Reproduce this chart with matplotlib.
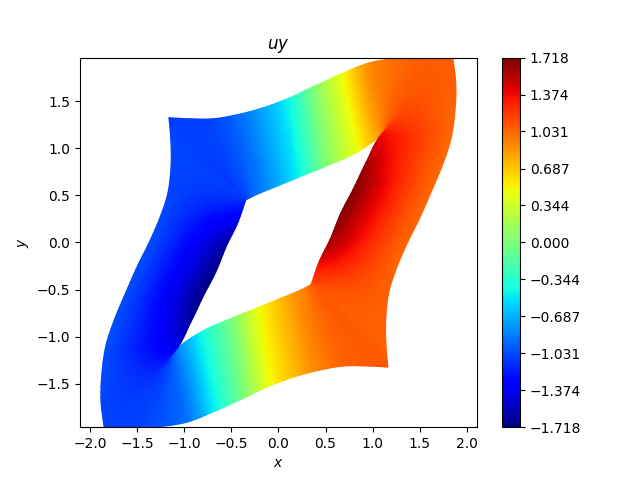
import matplotlib
matplotlib.use("Agg")
import matplotlib.pyplot as plt
import numpy as np

# one station per line of the ring: top arm, right arm, bottom arm, left arm
outer_x = [-1.162,-0.939,-0.695,-0.440,-0.164,0.122,0.366,0.674,0.971,1.215,1.554,
           1.851,1.883,1.873,1.830,1.751,1.618,1.491,1.385,1.247,1.178,1.141,1.146,
           1.162,0.939,0.695,0.440,0.164,-0.122,-0.366,-0.674,-0.971,-1.215,-1.554,
           -1.851,-1.883,-1.873,-1.830,-1.751,-1.618,-1.491,-1.385,-1.247,-1.178,-1.141,-1.146]
outer_y = [1.323,1.312,1.312,1.355,1.429,1.536,1.652,1.791,1.908,1.950,1.961,
           1.961,1.695,1.376,1.089,0.845,0.526,0.239,0.027,-0.292,-0.505,-0.792,-1.142,
           -1.323,-1.312,-1.312,-1.355,-1.429,-1.536,-1.652,-1.791,-1.908,-1.950,-1.961,
           -1.961,-1.695,-1.376,-1.089,-0.845,-0.526,-0.239,-0.027,0.292,0.505,0.792,1.142]
inner_x = [-0.345,-0.345,-0.345,-0.281,-0.005,0.228,0.493,0.844,1.056,1.130,1.130,
           1.130,1.130,1.130,1.098,0.928,0.790,0.663,0.546,0.440,0.345,0.345,0.345,
           0.345,0.345,0.345,0.281,0.005,-0.228,-0.493,-0.844,-1.056,-1.130,-1.130,
           -1.130,-1.130,-1.130,-1.098,-0.928,-0.790,-0.663,-0.546,-0.440,-0.345,-0.345,-0.345]
inner_y = [0.452,0.452,0.452,0.484,0.600,0.696,0.802,0.962,1.110,1.185,1.185,
           1.185,1.185,1.185,1.153,0.845,0.558,0.313,0.027,-0.186,-0.452,-0.452,-0.452,
           -0.452,-0.452,-0.452,-0.484,-0.600,-0.696,-0.802,-0.962,-1.110,-1.185,-1.185,
           -1.185,-1.185,-1.185,-1.153,-0.845,-0.558,-0.313,-0.027,0.186,0.452,0.452,0.452]
uy_outer = [-1.08,-1.08,-1.05,-0.93,-0.72,-0.43,0.00,0.48,0.90,1.00,1.07,
            1.07,1.05,1.03,1.02,1.02,1.03,1.03,1.03,1.03,1.05,1.05,1.05,
            1.08,1.08,1.05,0.93,0.72,0.43,0.00,-0.48,-0.90,-1.00,-1.07,
            -1.07,-1.05,-1.03,-1.02,-1.02,-1.03,-1.03,-1.03,-1.03,-1.05,-1.05,-1.05]
uy_mid = [-1.09,-1.07,-1.04,-0.95,-0.72,-0.44,0.00,0.48,0.88,1.00,1.08,
          1.10,1.12,1.15,1.20,1.25,1.30,1.30,1.28,1.22,1.12,1.08,1.07,
          1.09,1.07,1.04,0.95,0.72,0.44,0.00,-0.48,-0.88,-1.00,-1.08,
          -1.10,-1.12,-1.15,-1.20,-1.25,-1.30,-1.30,-1.28,-1.22,-1.12,-1.08,-1.07]
uy_inner = [-1.10,-1.08,-1.05,-0.95,-0.72,-0.45,0.00,0.48,0.80,1.00,1.10,
            1.20,1.25,1.30,1.38,1.60,1.71,1.70,1.62,1.42,1.15,1.12,1.08,
            1.10,1.08,1.05,0.95,0.72,0.45,0.00,-0.48,-0.80,-1.00,-1.10,
            -1.20,-1.25,-1.30,-1.38,-1.60,-1.71,-1.70,-1.62,-1.42,-1.15,-1.12,-1.08]
arm_starts = [0, 11, 23, 34, 46]  # stations at the four corners of the square
cbar_ticks = [-1.718,-1.374,-1.031,-0.687,-0.344,0.0,0.344,0.687,1.031,1.374,1.718]
cbar_labels = ['\u22121.718','\u22121.374','\u22121.031','\u22120.687','\u22120.344',
               '0.000','0.344','0.687','1.031','1.374','1.718']

SUB = 6
RADIAL = 8

def closed(a):
    a = np.asarray(a, dtype=float)
    return np.append(a, a[0])

def smooth_arm(p, u):
    """Rounded drawing path through one arm's stations, spaced by arc length."""
    d = np.diff(u)
    s = np.where(d > 0, np.diff(p) / np.where(d > 0, d, 1), 0.0)
    m = np.zeros(len(p))
    for i in range(1, len(p) - 1):
        if d[i-1] > 0 and d[i] > 0:
            m[i] = (s[i-1]*d[i] + s[i]*d[i-1]) / (d[i-1] + d[i])
        else:
            m[i] = s[i-1] + s[i]
    m[0], m[-1] = s[0], s[-1]
    out = []
    for i in range(len(p) - 1):
        for t in np.arange(SUB) / SUB:
            h00 = 2*t**3 - 3*t**2 + 1
            h10 = t**3 - 2*t**2 + t
            h01 = -2*t**3 + 3*t**2
            h11 = t**3 - t**2
            out.append(h00*p[i] + h10*m[i]*d[i] + h01*p[i+1] + h11*m[i+1]*d[i])
    return out

def ring(a, px, py):
    a, px, py = closed(a), closed(px), closed(py)
    out = []
    for s, e in zip(arm_starts[:-1], arm_starts[1:]):
        u = np.r_[0, np.cumsum(np.hypot(np.diff(px[s:e+1]), np.diff(py[s:e+1])))]
        out += smooth_arm(a[s:e+1], u)
    out.append(a[-1])
    return np.array(out)

ox = ring(outer_x, outer_x, outer_y)
oy = ring(outer_y, outer_x, outer_y)
ix = ring(inner_x, inner_x, inner_y)
iy = ring(inner_y, inner_x, inner_y)
vo = ring(uy_outer, outer_x, outer_y)
vm = ring(uy_mid, outer_x, outer_y)
vi = ring(uy_inner, outer_x, outer_y)

t = np.linspace(0, 1, RADIAL + 1)[:, None]
X = (1 - t) * ix + t * ox
Y = (1 - t) * iy + t * oy
C = (2*(t-0.5)*(t-1))*vi + (4*t*(1-t))*vm + (2*t*(t-0.5))*vo

fig, ax = plt.subplots(figsize=(6.4, 4.8), dpi=100)
m = ax.pcolormesh(X, Y, C, shading='gouraud', cmap='jet', vmin=-1.718, vmax=1.718)
ax.set_xlim(-2.106, 2.106)
ax.set_ylim(-1.961, 1.961)
ax.set_title('$uy$')
ax.set_xlabel('$x$')
ax.set_ylabel('$y$')
cb = fig.colorbar(m, ax=ax)
cb.set_ticks(cbar_ticks)
cb.set_ticklabels(cbar_labels)
fig.savefig('out.png', dpi=100)
